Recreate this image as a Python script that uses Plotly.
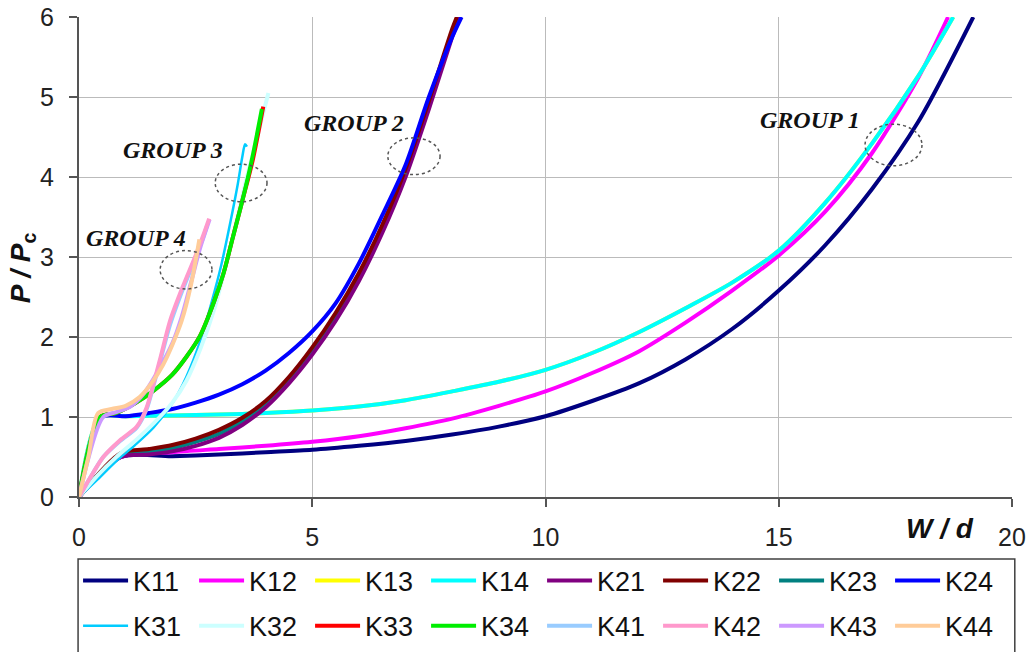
import plotly.graph_objects as go

# ---------------- data ----------------
series_names = ["K11", "K12", "K13", "K14", "K21", "K22", "K23", "K24",
                "K31", "K32", "K33", "K34", "K41", "K42", "K43", "K44"]

# Group 1
K11_x = [0, 0.9, 2, 3, 4, 5, 6, 7, 8, 9, 10, 11, 12, 13, 14, 15, 16, 17, 18, 19.17]
K11_y = [0, 0.5, 0.51, 0.53, 0.56, 0.59, 0.64, 0.7, 0.78, 0.88, 1.01, 1.2, 1.42, 1.72, 2.1, 2.58, 3.15, 3.85, 4.7, 6.0]
K12_x = [0, 0.9, 2, 3, 4, 5, 6, 7, 8, 9, 10, 11, 12, 13, 14, 15, 16, 17, 18, 18.63]
K12_y = [0, 0.5, 0.56, 0.6, 0.64, 0.69, 0.76, 0.86, 0.98, 1.14, 1.32, 1.55, 1.82, 2.18, 2.58, 3.02, 3.57, 4.3, 5.25, 6.0]
K13_x = [0, 0.45, 1, 2, 3, 4, 5, 6, 7, 8, 9, 10, 11, 12, 13, 14, 15, 16, 17, 18, 18.74]
K13_y = [0, 1.0, 1.01, 1.02, 1.03, 1.05, 1.08, 1.13, 1.21, 1.32, 1.44, 1.59, 1.8, 2.06, 2.36, 2.68, 3.08, 3.68, 4.42, 5.27, 6.0]
K14_x = [0, 0.45, 1, 2, 3, 4, 5, 6, 7, 8, 9, 10, 11, 12, 13, 14, 15, 16, 17, 18, 18.74]
K14_y = [0, 1.0, 1.01, 1.02, 1.03, 1.05, 1.08, 1.13, 1.21, 1.32, 1.44, 1.59, 1.8, 2.06, 2.36, 2.68, 3.08, 3.68, 4.42, 5.27, 6.0]

# Group 2
K21_x = [0, 0.9, 1.5, 2, 2.5, 3, 3.5, 4, 4.5, 5, 5.5, 6, 6.5, 7, 7.5, 8, 8.15]
K21_y = [0, 0.5, 0.53, 0.57, 0.64, 0.74, 0.9, 1.12, 1.42, 1.78, 2.2, 2.7, 3.3, 4.0, 4.85, 5.75, 6.0]
K22_x = [0, 0.9, 1.5, 2, 2.5, 3, 3.5, 4, 4.5, 5, 5.5, 6, 6.5, 7, 7.5, 8, 8.1]
K22_y = [0, 0.55, 0.6, 0.65, 0.73, 0.84, 0.99, 1.2, 1.5, 1.87, 2.3, 2.8, 3.4, 4.1, 4.95, 5.85, 6.0]
K23_x = [0, 0.9, 1.5, 2, 2.5, 3, 3.5, 4, 4.5, 5, 5.5, 6, 6.5, 7, 7.5, 8, 8.12]
K23_y = [0, 0.53, 0.57, 0.61, 0.69, 0.79, 0.95, 1.16, 1.46, 1.83, 2.25, 2.75, 3.35, 4.05, 4.9, 5.8, 6.0]
K24_x = [0, 0.5, 1, 1.5, 2, 2.5, 3, 3.5, 4, 4.5, 5, 5.5, 6, 6.5, 7, 7.5, 8, 8.2]
K24_y = [0, 1.0, 1.01, 1.05, 1.1, 1.18, 1.28, 1.41, 1.58, 1.8, 2.07, 2.42, 2.92, 3.52, 4.15, 5.0, 5.75, 6.0]

# Group 3
K31_x = [0, 0.4, 0.8, 1.2, 1.6, 2.0, 2.3, 2.6, 2.85, 3.05, 3.25, 3.4, 3.5, 3.56, 3.6]
K31_y = [0, 0.22, 0.45, 0.65, 0.87, 1.17, 1.5, 1.95, 2.45, 2.9, 3.45, 3.9, 4.25, 4.41, 4.38]
K32_x = [0, 0.4, 0.8, 1.2, 1.6, 2.0, 2.3, 2.6, 2.9, 3.15, 3.4, 3.6, 3.8, 3.95, 4.06]
K32_y = [0, 0.27, 0.5, 0.7, 0.92, 1.18, 1.45, 1.85, 2.35, 2.9, 3.5, 4.0, 4.45, 4.8, 5.05]
K33_x = [0, 0.45, 0.8, 1.2, 1.6, 2.0, 2.3, 2.6, 2.9, 3.1, 3.3, 3.5, 3.72, 3.95]
K33_y = [0, 1.0, 1.05, 1.17, 1.33, 1.53, 1.75, 2.02, 2.45, 2.8, 3.25, 3.7, 4.2, 4.88]
K34_x = [0, 0.45, 0.8, 1.2, 1.6, 2.0, 2.3, 2.6, 2.9, 3.1, 3.3, 3.5, 3.7, 3.92]
K34_y = [0, 1.0, 1.05, 1.17, 1.33, 1.53, 1.75, 2.02, 2.45, 2.8, 3.25, 3.7, 4.2, 4.85]

# Group 4
K41_x = [0, 0.3, 0.52, 0.88, 1.24, 1.45, 1.6, 1.75, 1.95, 2.15, 2.31, 2.5, 2.65, 2.75]
K41_y = [0, 0.3, 0.5, 0.7, 0.87, 1.1, 1.4, 1.72, 2.15, 2.48, 2.72, 3.0, 3.22, 3.4]
K42_x = [0, 0.3, 0.52, 0.88, 1.24, 1.45, 1.6, 1.75, 1.95, 2.15, 2.31, 2.5, 2.65, 2.79]
K42_y = [0, 0.3, 0.5, 0.71, 0.88, 1.12, 1.42, 1.75, 2.2, 2.52, 2.75, 3.02, 3.25, 3.48]
K43_x = [0, 0.52, 0.8, 1.1, 1.4, 1.7, 2.0, 2.2, 2.4, 2.6, 2.8]
K43_y = [0, 1.0, 1.06, 1.13, 1.3, 1.58, 1.92, 2.25, 2.68, 3.12, 3.47]
K44_x = [0, 0.2, 0.41, 0.7, 1.0, 1.3, 1.55, 1.8, 2.0, 2.2, 2.4, 2.58]
K44_y = [0, 0.5, 1.05, 1.1, 1.14, 1.25, 1.42, 1.65, 1.9, 2.2, 2.65, 3.22]

series_x = [K11_x, K12_x, K13_x, K14_x, K21_x, K22_x, K23_x, K24_x,
            K31_x, K32_x, K33_x, K34_x, K41_x, K42_x, K43_x, K44_x]
series_y = [K11_y, K12_y, K13_y, K14_y, K21_y, K22_y, K23_y, K24_y,
            K31_y, K32_y, K33_y, K34_y, K41_y, K42_y, K43_y, K44_y]

group_labels = ["GROUP 1", "GROUP 2", "GROUP 3", "GROUP 4"]

x_ticks = [0, 5, 10, 15, 20]
y_ticks = [0, 1, 2, 3, 4, 5, 6]

# ---------------- styles ----------------
colors = ["#000080", "#FF00FF", "#FFFF00", "#00FFFF", "#800080", "#800000", "#008080", "#0000FF",
          "#00CCFF", "#CCFFFF", "#FF0000", "#00EE00", "#99CCFF", "#FF99CC", "#CC99FF", "#FFCC99"]
widths = [4, 4, 4, 4, 4, 4, 4, 4,
          2.5, 4, 4, 4, 4, 4, 4, 4]
# drawing order (bottom -> top); legend order is kept via legendrank
draw_order = [0, 1, 2, 3, 6, 4, 5, 7, 8, 9, 10, 11, 12, 14, 13, 15]

fig = go.Figure()
for i in draw_order:
    fig.add_trace(go.Scatter(
        x=series_x[i], y=series_y[i], mode="lines", name=series_names[i],
        legend="legend" if i < 8 else "legend2", legendrank=i + 1,
        line=dict(color=colors[i], width=widths[i], shape="spline", smoothing=0.8)))

# Group annotations + dotted ellipses
label_pos = [(15.67, 4.71), (5.9, 4.68), (2.01, 4.34), (1.22, 3.24)]
ellipses = [(16.85, 18.07, 4.14, 4.66), (6.62, 7.74, 4.03, 4.49),
            (2.92, 4.03, 3.69, 4.16), (1.74, 2.85, 2.6, 3.08)]
for txt, (lx, ly), (x0, x1, y0, y1) in zip(group_labels, label_pos, ellipses):
    fig.add_annotation(x=lx, y=ly, xref="x", yref="y", text="<b><i>%s</i></b>" % txt,
                       showarrow=False, xanchor="center", yanchor="middle",
                       font=dict(family="Liberation Serif", size=24, color="#111111"))
    fig.add_shape(type="circle", xref="x", yref="y", x0=x0, x1=x1, y0=y0, y1=y1,
                  line=dict(color="#555555", width=1.5, dash="dot"))

# Axis titles as annotations
fig.add_annotation(x=0.923, y=-0.066, xref="paper", yref="paper",
                   xanchor="center", yanchor="middle",
                   text="<b><i>W / d</i></b>", showarrow=False,
                   font=dict(family="Liberation Sans", size=28, color="#111111"))
fig.add_annotation(x=-0.061, y=0.477, xref="paper", yref="paper",
                   xanchor="center", yanchor="middle",
                   text="<b><i>P / P</i><sub>c</sub></b>", showarrow=False, textangle=-90,
                   font=dict(family="Liberation Sans", size=28, color="#111111"))

# Legend frame
fig.add_shape(type="rect", xref="paper", yref="paper", x0=-0.001, x1=1.003, y0=-0.129, y1=-0.45,
              line=dict(color="#404040", width=1.5), fillcolor="rgba(0,0,0,0)", layer="above")

axis_font = dict(family="Liberation Sans", size=25, color="#222222")
fig.update_xaxes(range=[0, 20], tickvals=x_ticks, showgrid=True, gridcolor="#BBBBBB", gridwidth=1,
                 zeroline=False, showline=True, linecolor="#555555", linewidth=2,
                 ticks="outside", ticklen=8, tickcolor="#555555", tickwidth=1.5,
                 tickfont=axis_font, ticklabelstandoff=9)
fig.update_yaxes(range=[0, 6], tickvals=y_ticks, showgrid=True, gridcolor="#BBBBBB", gridwidth=1,
                 zeroline=False, showline=True, linecolor="#555555", linewidth=2,
                 ticks="outside", ticklen=8, tickcolor="#555555", tickwidth=1.5,
                 tickfont=axis_font, ticklabelstandoff=10)

legend_common = dict(orientation="h", x=-0.001, xanchor="left", yanchor="middle",
                     borderwidth=0, bgcolor="rgba(0,0,0,0)",
                     font=dict(family="Liberation Sans", size=27, color="#111111"),
                     itemwidth=45, entrywidth=56, entrywidthmode="pixels",
                     traceorder="normal")

fig.update_layout(
    width=1030, height=652,
    margin=dict(l=79, r=18, t=17, b=155, autoexpand=False),
    paper_bgcolor="white", plot_bgcolor="white",
    showlegend=True,
    legend=dict(y=-0.175, **legend_common),
    legend2=dict(y=-0.269, **legend_common),
)

fig.write_html("out.html")
